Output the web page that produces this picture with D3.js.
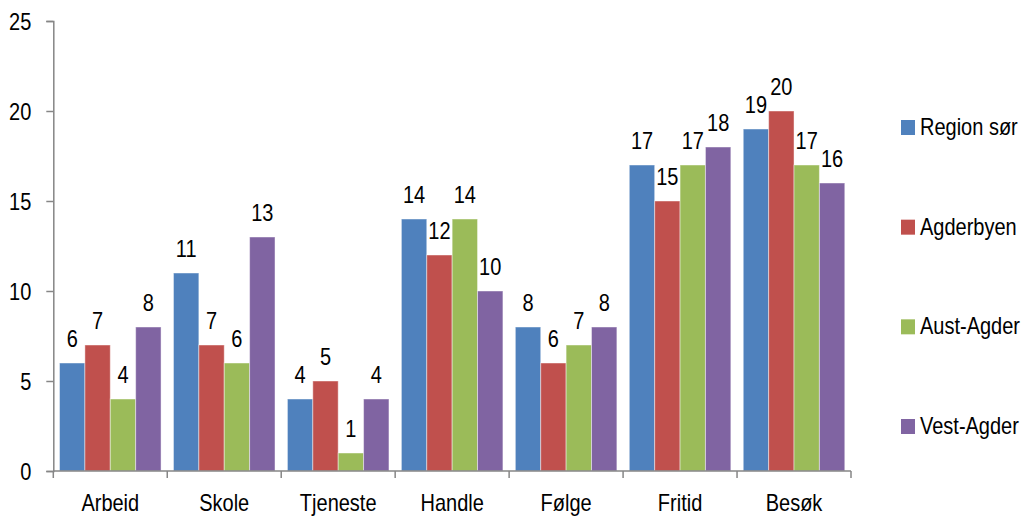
<!DOCTYPE html>
<html><head><meta charset="utf-8">
<script src="https://cdn.jsdelivr.net/npm/d3@7"></script>
<style>body{margin:0;background:#fff}text{font-family:"Liberation Sans",Arial,sans-serif;fill:#000}</style>
</head><body>
<svg id="chart" width="1025" height="516"></svg>
<script>
const categories = ["Arbeid","Skole","Tjeneste","Handle","Følge","Fritid","Besøk"];
const seriesNames = ["Region sør","Agderbyen","Aust-Agder","Vest-Agder"];
const regionSor = [6,11,4,14,8,17,19];
const agderbyen = [7,7,5,12,6,15,20];
const austAgder = [4,6,1,14,7,17,17];
const vestAgder = [8,13,4,10,8,18,16];
const yTicks = [0,5,10,15,20,25];
const colors = ["#4F81BD","#C0504D","#9BBB59","#8064A2"];
const seriesValues = [regionSor, agderbyen, austAgder, vestAgder];

(function(){
const svg = d3.select("#chart");
const mL = 53.3, mR = 851, mT = 21, mB = 471;
const sy = 1.17;
const x = d3.scaleBand().domain(categories).range([mL, mR]).paddingInner(0.109).paddingOuter(0.0545);
const xs = d3.scaleBand().domain(seriesNames).range([0, x.bandwidth()]);
const y = d3.scaleLinear().domain([0,25]).range([mB, mT]);
const axisCol = "#868686";

// bars
categories.forEach((c, ci) => {
  seriesNames.forEach((s, si) => {
    const v = seriesValues[si][ci];
    svg.append("rect")
      .attr("x", x(c) + xs(s)).attr("y", y(v))
      .attr("width", xs.bandwidth()).attr("height", y(0) - y(v))
      .attr("fill", colors[si]).attr("stroke", "rgba(255,255,255,0.45)").attr("stroke-width", 1);
    svg.append("text")
      .attr("transform", `translate(${x(c) + xs(s) + xs.bandwidth()/2},${y(v) - 16.5}) scale(1,${sy})`)
      .attr("text-anchor", "middle").attr("font-size", 20).text(v);
  });
});

// y axis
const ya = svg.append("g").attr("transform", `translate(${mL},0)`)
  .call(d3.axisLeft(y).tickValues(yTicks).tickSize(7).tickSizeOuter(7).tickFormat(d3.format("d")));
ya.select(".domain").attr("stroke", axisCol).attr("stroke-width", 1.5);
ya.selectAll(".tick line").attr("stroke", axisCol).attr("stroke-width", 1.5);
ya.selectAll(".tick text").attr("font-size", 20).attr("x", -22).attr("dy", null)
  .attr("transform", `scale(1,${sy})`).attr("y", 0).attr("dominant-baseline", "central")
  .style("font-family", '"Liberation Sans",Arial,sans-serif');

// x axis
const xa = svg.append("g").attr("transform", `translate(0,${mB})`);
xa.append("line").attr("x1", mL).attr("x2", mR).attr("y1", 0).attr("y2", 0).attr("stroke", axisCol).attr("stroke-width", 1.5);
const bounds = categories.map((c,i) => mL + i*(mR-mL)/categories.length).concat([mR]);
bounds.forEach(b => xa.append("line").attr("x1", b).attr("x2", b).attr("y1", 0).attr("y2", 7).attr("stroke", axisCol).attr("stroke-width", 1.5));
categories.forEach(c => {
  xa.append("text").attr("transform", `translate(${x(c) + x.bandwidth()/2},${40}) scale(1,${sy})`)
    .attr("text-anchor", "middle").attr("font-size", 20).text(c);
});

// legend
const ly = d3.scalePoint().domain(seriesNames).range([127.5, 426.5]);
seriesNames.forEach((s, i) => {
  svg.append("rect").attr("x", 901).attr("y", ly(s) - 7.5).attr("width", 14).attr("height", 15).attr("fill", colors[i]);
  svg.append("text").attr("transform", `translate(920,${ly(s) + 7.5}) scale(1,${sy})`)
    .attr("font-size", 20).text(s);
});
})();
</script>
</body></html>
